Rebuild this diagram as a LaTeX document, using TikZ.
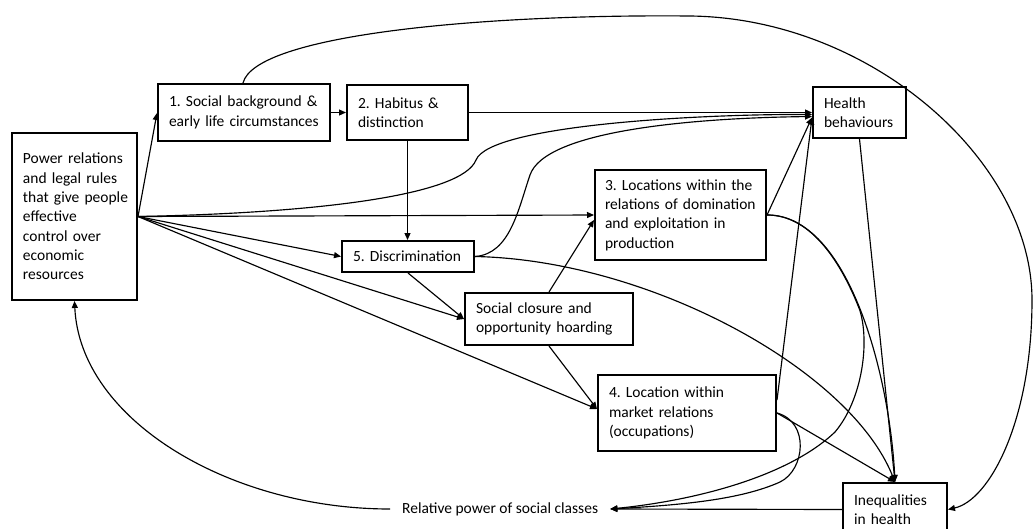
\documentclass[tikz,border=0pt]{standalone}
\usepackage{fontspec}
\setmainfont{Carlito}
\usetikzlibrary{arrows.meta,calc}
\newcommand{\bxline}[1]{\mbox{#1}}
\begin{document}
\begin{tikzpicture}[x=1pt,y=-1pt,
  box/.style={draw, line width=2pt, inner xsep=11pt, inner ysep=0pt, align=left,
              anchor=north west, font=\fontsize{15.5}{19.3}\selectfont\frenchspacing},
  lbl/.style={inner xsep=12pt, inner ysep=2pt, anchor=west, font=\fontsize{15.5}{19.3}\selectfont},
  conn/.style={line width=1.15pt, -{Triangle[length=7pt,width=6pt]}}]
\useasboundingbox (0,0) rectangle (1034,528);
\fill[white] (0,0) rectangle (1034,528);
\clip (0,0) rectangle (1034,528);

% boxes
\node[box, text width=103pt, minimum height=167pt] (pw) at (11,132)
  {\bxline{Power relations}\\\bxline{and legal rules}\\\bxline{that give people}\\\bxline{effective}\\\bxline{control over}\\\bxline{economic}\\\bxline{resources}};
\node[box, text width=150pt, minimum height=57pt] (b1) at (157,83)
  {\bxline{1. Social background \&}\\\bxline{early life circumstances}};
\node[box, text width=99pt, minimum height=55pt] (b2) at (346,84)
  {\bxline{2. Habitus \&}\\\bxline{distinction}};
\node[box, text width=110pt, minimum height=31pt] (b5) at (341,240)
  {\bxline{5. Discrimination}};
\node[box, text width=151pt, minimum height=90pt, inner xsep=10pt] (b3) at (594,169)
  {\bxline{3. Locations within the}\\\bxline{relations of domination}\\\bxline{and exploitation in}\\\bxline{production}};
\node[box, text width=71pt, minimum height=51pt] (hb) at (812,86)
  {\bxline{Health}\\\bxline{behaviours}};
\node[box, text width=146pt, minimum height=52pt] (sc) at (464,292)
  {\bxline{Social closure and}\\\bxline{opportunity hoarding}};
\node[box, text width=156pt, minimum height=76pt] (b4) at (597,374)
  {\bxline{4. Location within}\\\bxline{market relations}\\\bxline{(occupations)}};
\node[box, text width=82pt, minimum height=53pt] (ih) at (842,482)
  {\bxline{Inequalities}\\\bxline{in health}};
\node[lbl] (rp) at (390,509) {Relative power of social classes};

% connectors from power relations
\draw[conn] (pw.east) -- ($(b1.north west)+(0,30)$);
\draw[conn] (pw.east) -- (b3.west);
\draw[conn] (pw.east) .. controls (320,213) and (462,195) .. (476,160)
                      .. controls (490,125) and (700,114) .. ($(hb.west)+(0,2)$);
\draw[conn] (pw.east) -- (b5.west);
\draw[conn] (pw.east) -- (sc.west);
\draw[conn] (pw.east) -- ($(b4.north west)+(0,35)$);

% chain
\draw[conn] (b1.east) -- (b2.west);
\draw[conn] (b2.south) -- (b2.south |- b5.north);
\draw[conn] (b2.east) -- (hb.west);
\draw[conn] (b5.south) -- (sc.west);
\draw[conn] (b5.east) .. controls (510,254) and (518,210) .. (530,175)
                      .. controls (545,131) and (690,118) .. ($(hb.west)+(0,4)$);
\draw[conn] (b5.east) .. controls (650,260) and (850,370) .. (ih.north);
\draw[conn] (sc.north) -- ($(b3.north west)+(0,51)$);
\draw[conn] (sc.south) -- ($(b4.north west)+(0,35)$);

% to health behaviours
\draw[conn] (b3.east) -- ($(hb.west)+(0,5)$);
\draw[conn] ($(b4.north east)+(0,26)$) -- ($(hb.west)+(0,5)$);

% to inequalities in health
\draw[conn] (hb.south) -- (ih.north);
\draw[conn] (b3.east) .. controls (850,215) and (890,380) .. (ih.north);
\draw[conn] (b4.east) -- (ih.north);

% to relative power
\draw[conn] (b3.east) .. controls (807.5,214.5) and (838.75,256) .. (859.75,310)
                      .. controls (870,343) and (862,400) .. (835,432)
                      .. controls (790,475) and (700,500) .. (rp.east);
\draw[conn] (b4.east) .. controls (810,422) and (805,470) .. (780,482)
                      .. controls (740,500) and (680,505) .. (rp.east);
\draw[conn] (ih.west) -- (rp.east);

% big arc from social background to inequalities
\draw[conn] ($(b1.north west)+(86,0)$) .. controls (255,35) and (480,14) .. (690,16)
            .. controls (870,18) and (1032,160) .. (1032,300)
            .. controls (1032,420) and (990,500) .. (ih.east);

% feedback to power relations
\draw[conn] (rp.west) .. controls (230,509) and (80,420) .. (pw.south);
\end{tikzpicture}
\end{document}
